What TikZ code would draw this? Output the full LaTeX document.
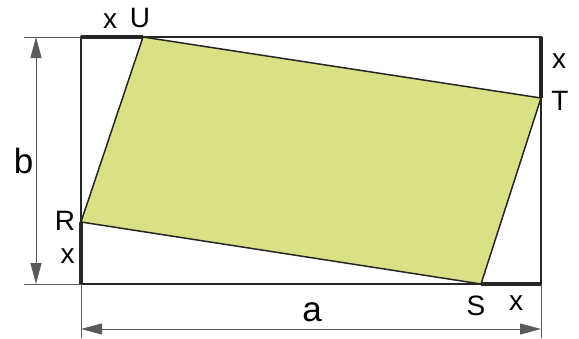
\documentclass[tikz,border=0pt]{standalone}
\usepackage{fontspec}
\setmainfont{Liberation Sans}
\usetikzlibrary{arrows.meta}
\definecolor{areagreen}{HTML}{DAE086}
\definecolor{edgegray}{HTML}{262626}
\definecolor{dimgray}{HTML}{5A5A5A}

\begin{document}
\begin{tikzpicture}[
  x=1pt, y=-1pt,
  >={Triangle[length=21pt,width=11pt]},
  frame/.style={draw=edgegray, line width=1.5pt},
  seg/.style={draw=edgegray, line width=3.6pt},
  quad/.style={fill=areagreen, draw=edgegray, line width=1.5pt, line join=round},
  dim/.style={draw=dimgray, line width=0.9pt},
  lbl/.style={font=\fontsize{28}{32}\selectfont, inner sep=0pt, anchor=base},
  dimlbl/.style={lbl, font=\fontsize{35}{40}\selectfont}
]
  \useasboundingbox (0,0) rectangle (579,338);
  % corners of the rectangle
  \coordinate (A) at (81,284);
  \coordinate (B) at (541,284);
  \coordinate (C) at (541,37);
  \coordinate (D) at (81,37);
  % points on the sides
  \coordinate (U) at (143,37);
  \coordinate (T) at (541,98);
  \coordinate (S) at (481,284);
  \coordinate (R) at (81,222);
  % ends of the dimension lines
  \coordinate (bt) at (24,37);
  \coordinate (bb) at (24,284);
  \coordinate (b1) at (36,37);
  \coordinate (b2) at (36,284);
  \coordinate (al) at (81,338);
  \coordinate (ar) at (541,338);
  \coordinate (a1) at (81,329);
  \coordinate (a2) at (541,329);

  \path[quad] (R) -- (U) -- (T) -- (S) -- cycle;
  \draw[frame] (A) rectangle (C);
  \draw[seg] (D) -- (U);
  \draw[seg] (C) -- (T);
  \draw[seg] (S) -- (B);
  \draw[seg] (A) -- (R);

  \draw[dim] (bt) -- (D);
  \draw[dim] (bb) -- (A);
  \draw[dim] (A) -- (al);
  \draw[dim] (B) -- (ar);
  \draw[dim,<->] (b1) -- (b2);
  \draw[dim,<->] (a1) -- (a2);

  \node[lbl] (xu) at (110,28) {x};
  \node[lbl] (lu) at (140,27) {U};
  \node[lbl] (xt) at (559,68) {x};
  \node[lbl] (lt) at (560,110) {T};
  \node[dimlbl] (lb) at (23.5,173) {b};
  \node[lbl] (lr) at (65,230) {R};
  \node[lbl] (xr) at (67.5,263) {x};
  \node[lbl] (ls) at (476,315) {S};
  \node[lbl] (xs) at (516,310) {x};
  \node[dimlbl] (la) at (312,321) {a};
\end{tikzpicture}
\end{document}
